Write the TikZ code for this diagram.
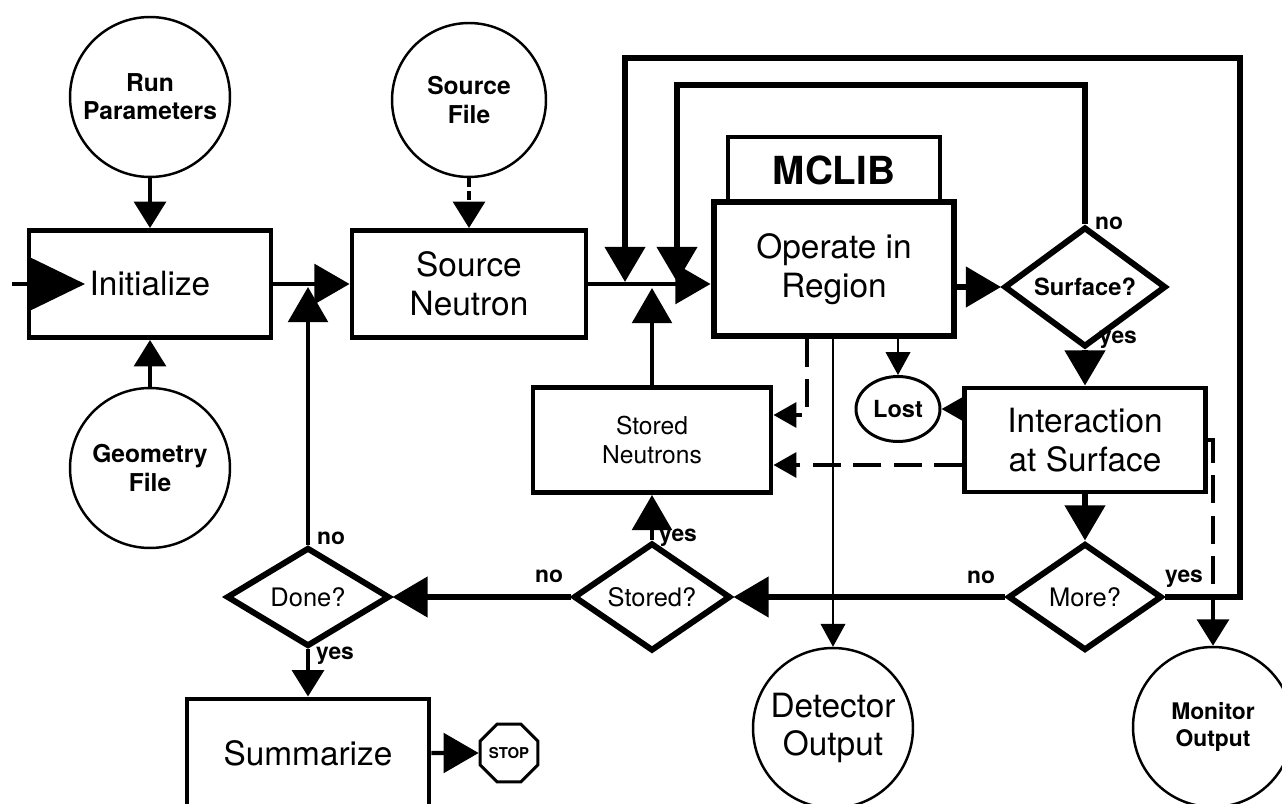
\documentclass[tikz,border=0pt]{standalone}
\usepackage{fontspec}
\setmainfont{TeX Gyre Heros}
\usetikzlibrary{arrows.meta,shapes.geometric,calc}
\begin{document}
\begin{tikzpicture}[x=0.02cm,y=-0.02cm,
  wA/.style={line width=3.4pt},
  wB/.style={line width=2.3pt},
  wC/.style={line width=0.9pt},
  arrXL/.style={-{Triangle[length=31pt,width=29.5pt]}},
  arrL/.style={-{Triangle[length=20pt,width=22.5pt]}},
  arrM/.style={-{Triangle[length=15pt,width=18pt]}},
  arrS/.style={-{Triangle[length=13pt,width=14pt]}},
  dashS/.style={dash pattern=on 5pt off 2.5pt},
  dashL/.style={dash pattern=on 16pt off 7pt},
  box/.style={draw, rectangle, line width=2.8pt, inner sep=0pt, align=center,
    font=\fontsize{19}{22}\selectfont},
  circ/.style={draw, circle, line width=1.4pt, minimum size=3.2cm, inner sep=0pt,
    align=center, font=\bfseries\fontsize{14}{16}\selectfont},
  dia/.style={draw, diamond, line width=3.4pt, inner sep=0pt, align=center,
    font=\fontsize{14.5}{16}\selectfont},
  lbl/.style={inner sep=0pt, font=\bfseries\fontsize{13}{15}\selectfont}]
\useasboundingbox (0,0) rectangle (1282,804);

% nodes
\node[circ] (run) at (150,97) {Run\\Parameters};
\node[circ, minimum size=3.08cm] (sfile) at (469,100) {Source\\File};
\node[circ] (geo) at (150,468) {Geometry\\File};
\node[box, minimum width=4.84cm, minimum height=2.14cm] (init) at (150,284) {Initialize};
\node[box, minimum width=4.68cm, minimum height=2.14cm] (src) at (469,284) {Source\\Neutron};
\node[box, minimum width=4.24cm, minimum height=1.32cm,
  font=\bfseries\fontsize{22}{24}\selectfont] (mclib) at (834,170) {MCLIB};
\node[box, line width=3.4pt, fill=white, minimum width=4.82cm, minimum height=2.68cm] (op) at (834,269) {Operate in\\Region};
\node[dia, minimum width=3.24cm, minimum height=2.16cm,
  font=\bfseries\fontsize{13.5}{15}\selectfont] (surf) at (1085,287) {Surface?};
\node[box, minimum width=4.82cm, minimum height=2.08cm] (inter) at (1085,440) {Interaction\\at Surface};
\node[draw, ellipse, line width=1.7pt, minimum width=1.68cm, minimum height=1.3cm, inner sep=0pt,
  font=\bfseries\fontsize{13.4}{15}\selectfont] (lost) at (898,409) {Lost};
\node[box, minimum width=4.76cm, minimum height=2.1cm,
  font=\fontsize{14}{16}\selectfont] (sn) at (652,440) {Stored\\Neutrons};
\node[dia, minimum width=3.08cm, minimum height=2.14cm] (more) at (1085,597) {More?};
\node[dia, minimum width=3.14cm, minimum height=2.1cm] (stored) at (652,597) {Stored?};
\node[dia, minimum width=3.26cm, minimum height=1.98cm] (done) at (308,597) {Done?};
\node[box, minimum width=4.84cm, minimum height=2.16cm] (summ) at (308,753) {Summarize};
\node[draw, regular polygon, regular polygon sides=8, line width=1.7pt, minimum size=1.25cm,
  inner sep=0pt, font=\bfseries\fontsize{8.5}{9}\selectfont] (stop) at (509,753) {STOP};
\node[circ, font=\fontsize{19}{22}\selectfont] (det) at (833,728) {Detector\\Output};
\node[circ, font=\bfseries\fontsize{13}{15}\selectfont] (mon) at (1213,727) {Monitor\\Output};

% coordinates
\coordinate (entry) at (12,284);
\coordinate (entrytip) at (85,284);
\coordinate (jA) at (625,282);
\coordinate (jB) at (677,282);
\coordinate (jC) at (652,288);
\coordinate (jD) at (308,287);
\coordinate (outerTR) at (1240,58);
\coordinate (innerTR) at (1085,85);
\coordinate (d1) at (807,415);
\coordinate (d2) at (963,465);
\coordinate (d3) at (1213,440);

% connectors
\draw[wB, arrXL] (entry) -- (entrytip);
\draw[wB, arrM] (run) -- (init);
\draw[wB, arrM] (geo) -- (init);
\draw[wB, dashS, arrM] (sfile) -- (src);
\draw[wB, arrL] (init) -- (src);
\draw[wB, arrL] (src.east) -- (src.east -| op.west);
\draw[wA, arrL] (more.east) -| (outerTR) -| (jA);
\draw[wA, arrL] (surf.north) -- (innerTR) -| (jB);
\draw[wB, arrL] (sn.north) -- (jC);
\draw[wA, arrL] (surf.west -| op.east) -- (surf.west);
\draw[wA, arrL] (surf.south) -- (inter.north);
\draw[wA, arrL] (inter.south) -- (more.north);
\draw[wA, arrL] (more.west) -- (stored.east);
\draw[wA, arrL] (stored.west) -- (done.east);
\draw[wB, arrL] (stored.north) -- (sn.south);
\draw[wB, arrL] (done.north) -- (jD);
\draw[wB, arrM] (done.south) -- (summ.north);
\draw[wB, arrL] (summ) -- (stop);
\draw[wC, arrS] (op.south -| lost.north) -- (lost.north);
\draw[wC, arrS] (op.south -| det.north) -- (det.north);
\draw[wB, arrS] (inter.west |- lost.east) -- (lost.east);
\draw[wB, dashL, arrS] (op.south -| d1) -- (d1) -- (d1 -| sn.east);
\draw[wB, dashL, arrS] (inter.west |- d2) -- (d2 -| sn.east);
\draw[wB, dashL, arrM] (inter.east |- d3) -- (d3) -- (mon.north);

% labels
\node[lbl] (l1) at (1109,223) {no};
\node[lbl] (l2) at (1118,340) {yes};
\node[lbl] (l3) at (981,577) {no};
\node[lbl] (l4) at (1184,579) {yes};
\node[lbl] (l5) at (678,538) {yes};
\node[lbl] (l6) at (549,576) {no};
\node[lbl] (l7) at (331,538) {no};
\node[lbl] (l8) at (335,656) {yes};
\end{tikzpicture}
\end{document}
